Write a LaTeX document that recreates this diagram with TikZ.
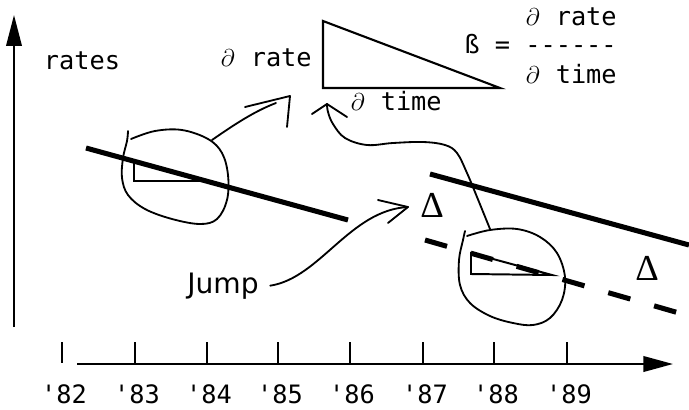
\documentclass[tikz,border=0pt]{standalone}
\usepackage{fontspec}
\usepackage{tikz}
\usetikzlibrary{arrows.meta}
\setmonofont{DejaVu Sans Mono}
\newfontfamily\jumpfont{DejaVu Sans}
\newfontfamily\deltafont{Liberation Serif}
\newcommand{\pdel}{\makebox[0.602em]{\fontsize{16pt}{16pt}\selectfont$\partial$}}
\tikzset{
  mono/.style={font=\fontsize{18pt}{22pt}\selectfont\ttfamily,inner sep=0pt,anchor=base},
  hand/.style={line width=1.3pt,line cap=round,line join=round},
  axis/.style={line width=1.5pt},
  trend/.style={line width=3.6pt},
  deltalbl/.style={font=\fontsize{26pt}{26pt}\selectfont\deltafont,inner sep=0pt}
}

\begin{document}
\begin{tikzpicture}[x=0.025cm,y=-0.025cm]
\path[use as bounding box] (0,0) rectangle (689,409);
\fill[white] (0,0) rectangle (689,409);
\draw[axis,-{Triangle[length=22pt,width=11pt]}] (14,327) -- (14,15);
\draw[axis,-{Triangle[length=21pt,width=11pt]}] (77,364) -- (673,364);
\draw[axis] (62,342) -- (62,363);
\foreach \x in {135,207,278,350,423,494,567}
  \draw[axis] (\x,342) -- (\x,364);
\foreach \x/\yr in {64/82,137/83,209/84,280/85,352/86,425/87,496/88,569/89}
  \node[mono] (yr\yr) at (\x,403) {'\yr};
\node[mono] (rates) at (82,69) {rates};
\node[mono] (drate) at (266,66) {\pdel{} rate};
\draw[line width=1.5pt] (323,21) -- (323,88) -- (500,88) -- cycle;
\node[mono] (dtime) at (396,110) {\pdel{} time};
\node[mono,anchor=base east] (fnum) at (617,25) {\pdel{} rate};
\node[mono,anchor=base east] (fbar) at (617,53) {ß = ------};
\node[mono,anchor=base east] (fden) at (617,83) {\pdel{} time};
\draw[trend] (86,148) -- (348,220);
\draw[trend] (430,174) -- (689,245);
\draw[trend,dash pattern=on 16.3pt off 17.6pt] (425,240) -- (679,313);
\draw[line width=1.4pt] (134,163) -- (134,181) -- (203,181);
\draw[line width=1.4pt] (471,253) -- (471,274) -- (552,275) -- cycle;
\draw[hand] plot[smooth,tension=0.6] coordinates {(128,131) (127,141) (123,158) (122,178) (128,195) (145,209) (172,219) (200,224) (217,219) (227,200) (228,175) (222,153) (208,139) (182,130) (155,131) (131,139)};
\draw[hand] plot[smooth,tension=0.6] coordinates {(465,231) (463,240) (459,260) (460,285) (470,303) (490,316) (513,323) (533,325) (550,318) (562,300) (565,277) (557,253) (540,237) (517,229) (490,230) (467,236)};
\node[deltalbl] (deltaA) at (432,205) {Δ};
\node[deltalbl] (deltaB) at (647,268) {Δ};
\node[font=\fontsize{20pt}{20pt}\selectfont\jumpfont,inner sep=0pt,anchor=base] (jump) at (223,293) {Jump};
\coordinate (loopA) at (212,140);
\coordinate (tipA) at (290,96);
\coordinate (loopB) at (490,229);
\coordinate (tipB) at (327,104);
\coordinate (jumptip) at (408,207);
\draw[hand] (loopA) .. controls (235,124) and (255,111) .. (276,103);
\draw[hand] (245,107) -- (tipA) -- (287,127);
\draw[hand] plot[smooth,tension=0.6] coordinates {(loopB) (477,197) (467,173) (457,153) (445,145) (423,142) (393,143) (367,145) (345,138) (333,124) (328,112) (tipB)};
\draw[hand] (312,114) -- (tipB) -- (347,117);
\draw[hand] ([xshift=8pt]jump.east) .. controls (320,278) and (350,210) .. (jumptip);
\draw[hand] (378,200) -- (jumptip) -- (388,223);
\end{tikzpicture}
\end{document}
